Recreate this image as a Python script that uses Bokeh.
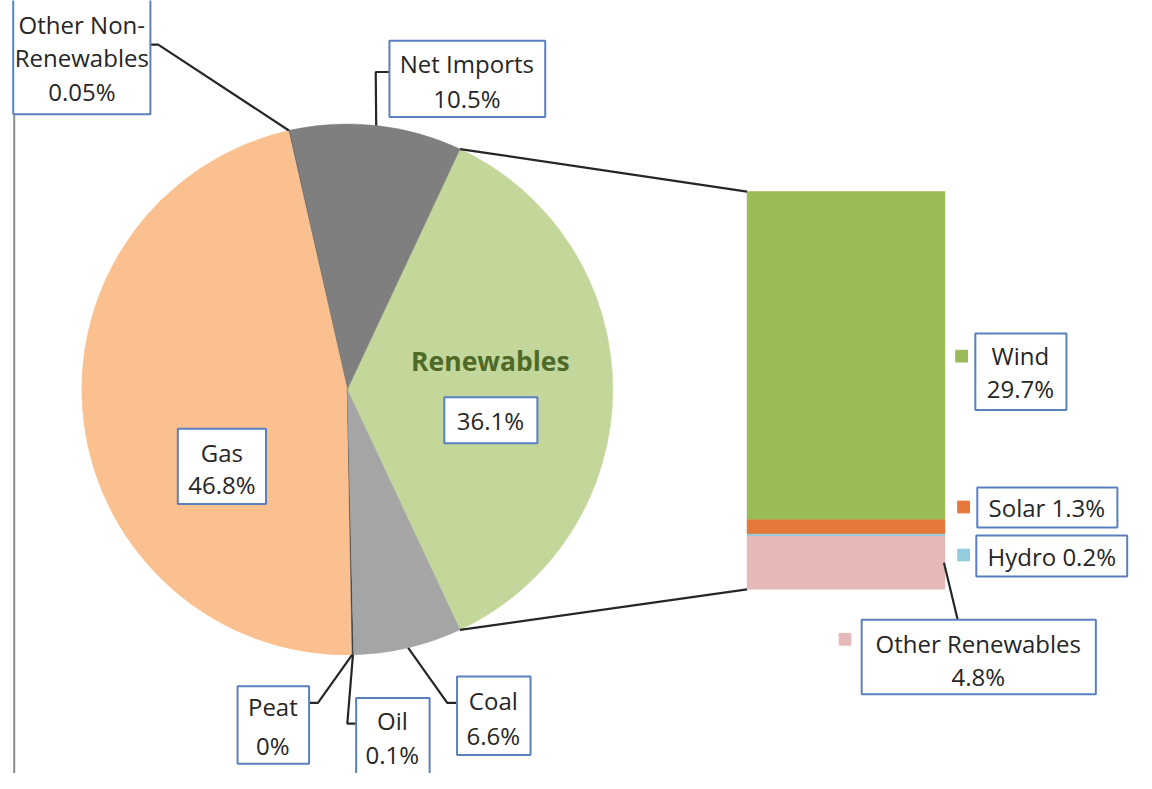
import math
from bokeh.plotting import figure
from bokeh.models import Range1d
from bokeh.core.properties import value
from bokeh.embed import file_html
from bokeh.resources import INLINE

# ---------------- data ----------------
# pie slices, counter-clockwise starting with the split slice (Renewables)
pie_labels = ["Renewables", "Net Imports", "Other Non-Renewables", "Gas", "Peat", "Oil", "Coal"]
pie_values = [36.1, 10.5, 0.05, 46.8, 0.0, 0.1, 6.6]
pie_colors = ["#C4D79B", "#7F7F7F", "#595959", "#FAC08F", "#595959", "#404040", "#A5A5A5"]

# breakdown of Renewables, top to bottom
bar_labels = ["Wind", "Solar", "Hydro", "Other Renewables"]
bar_values = [29.7, 1.3, 0.2, 4.8]
bar_colors = ["#9BBB59", "#E5773A", "#93CDDD", "#E6B9B8"]

pie_text = {"Net Imports": ["Net Imports", "10.5%"],
            "Other Non-Renewables": ["Other Non-", "Renewables", "0.05%"],
            "Gas": ["Gas", "46.8%"],
            "Peat": ["Peat", "0%"],
            "Oil": ["Oil", "0.1%"],
            "Coal": ["Coal", "6.6%"]}
bar_text = {"Wind": ["Wind", "29.7%"],
            "Solar": ["Solar 1.3%"],
            "Hydro": ["Hydro 0.2%"],
            "Other Renewables": ["Other Renewables", "4.8%"]}

# ---------------- layout ----------------
H = 789
def Y(y):
    return H - y

W_PLOT, H_PLOT = 1136, 773
S = H_PLOT / H  # screen px per layout unit
p = figure(width=W_PLOT, height=H_PLOT, output_backend="svg", toolbar_location=None,
           x_range=Range1d(0, W_PLOT / S), y_range=Range1d(0, H),
           min_border=0)
p.axis.visible = False
p.grid.visible = False
p.outline_line_color = None
p.background_fill_color = "white"

FONT = value("Open Sans")
FS = value("%.1fpx" % (24.5 * S))
FS_BOLD = value("%.1fpx" % (27 * S))
TXT = "#262626"
BOX = "#5A80BF"
LEAD = "#262626"

# ---- pie ----
cx, cy, r = 354, Y(397), 271
total = sum(pie_values)
start0 = -math.pi * pie_values[0] / total
starts, ends = [], []
cum = 0.0
for v in pie_values:
    s = start0 + 2 * math.pi * cum / total
    e = s + 2 * math.pi * v / total
    starts.append(s)
    ends.append(e)
    cum += v
idx = [i for i, v in enumerate(pie_values) if v > 0]
p.wedge(x=[cx] * len(idx), y=[cy] * len(idx), radius=r,
        start_angle=[starts[i] for i in idx], end_angle=[ends[i] for i in idx],
        fill_color=[pie_colors[i] for i in idx],
        line_color=[pie_colors[i] for i in idx], line_width=0.5)

def pie_pt(label, frac=0.5):
    i = pie_labels.index(label)
    a = starts[i] + (ends[i] - starts[i]) * frac
    return cx + r * math.cos(a), cy + r * math.sin(a)

# ---- bar ----
bx0, bx1 = 762, 964
btop, bbot = Y(195), Y(601)
bsum = sum(bar_values)
scale = (btop - bbot) / bsum
tops, bots = [], []
cum = 0.0
for v in bar_values:
    t = btop - scale * cum
    tops.append(t)
    bots.append(t - scale * v)
    cum += v
p.quad(left=[bx0] * 4, right=[bx1] * 4, top=tops, bottom=bots,
       fill_color=bar_colors, line_color=bar_colors, line_width=0.5)

# connectors pie -> bar
ra = starts[0]
rb = ends[0]
p.segment(x0=[cx + r * math.cos(rb), cx + r * math.cos(ra)],
          y0=[cy + r * math.sin(rb), cy + r * math.sin(ra)],
          x1=[bx0, bx0], y1=[btop, bbot], line_color=LEAD, line_width=2.2)

# left border line
p.segment(x0=[14], y0=[Y(116)], x1=[14], y1=[Y(795)], line_color="#8C8C8C", line_width=2)

# ---- helpers ----
def box(x0, y0, x1, y1):
    p.quad(left=[x0], right=[x1], top=[Y(y0)], bottom=[Y(y1)],
           fill_color="white", line_color=BOX, line_width=2)

def texts(xc, ys, lines, color=TXT, style="normal", size=FS):
    p.text(x=[xc] * len(lines), y=[Y(yy) for yy in ys], text=lines,
           text_font=FONT, text_font_size=size, text_color=color,
           text_align="center", text_baseline="middle", text_font_style=style)

def leader(pts):
    p.line(x=[q[0] for q in pts], y=[q[1] for q in pts], line_color=LEAD, line_width=2.2)

# Other Non-Renewables
px, py = pie_pt("Other Non-Renewables")
leader([(153, Y(45)), (161, Y(45)), (px, py)])
box(13, -5, 153, 116)
texts(83, [24, 58, 93], pie_text["Other Non-Renewables"])

# Net Imports
px, py = pie_pt("Net Imports")
leader([(397, Y(73)), (383, Y(73)), (px, py)])
box(397, 41, 556, 119)
texts(476, [64, 100], pie_text["Net Imports"])

# Gas
box(181, 437, 271, 514)
texts(226, [461, 494], pie_text["Gas"])

# Renewables
texts(500, [368], ["Renewables"], color="#4F6A28", style="bold", size=FS_BOLD)
box(453, 405, 548, 452)
texts(500, [429], ["36.1%"])

# Peat
px, py = pie_pt("Peat")
leader([(315, Y(717)), (324, Y(717)), (px, py)])
box(242, 700, 315, 779)
texts(278, [721, 760], pie_text["Peat"])

# Oil
px, py = pie_pt("Oil")
leader([(363, Y(738)), (354, Y(738)), (px, py)])
box(363, 712, 438, 800)
texts(400, [735, 770], pie_text["Oil"])

# Coal
px, py = pie_pt("Coal")
leader([(466, Y(717)), (456, Y(717)), (px, py)])
box(466, 690, 541, 770)
texts(503, [714, 750], pie_text["Coal"])

# bar labels with legend keys
def key(xc, yc, color):
    p.rect(x=[xc], y=[Y(yc)], width=12, height=12, fill_color=color, line_color=color)

key(981, 363, bar_colors[0])
box(995, 340, 1088, 418)
texts(1041, [362, 396], bar_text["Wind"])

key(983, 517, bar_colors[1])
box(997, 497, 1140, 538)
texts(1068, [518], bar_text["Solar"])

key(983, 566, bar_colors[2])
box(996, 546, 1150, 588)
texts(1073, [567], bar_text["Hydro"])

i = bar_labels.index("Other Renewables")
leader([(bx1 - 1, (tops[i] + bots[i]) / 2), (977, Y(632))])
key(862, 652, bar_colors[3])
box(879, 632, 1118, 708)
texts(998, [656, 690], bar_text["Other Renewables"])

open("out.html", "w").write(file_html(p, INLINE))
